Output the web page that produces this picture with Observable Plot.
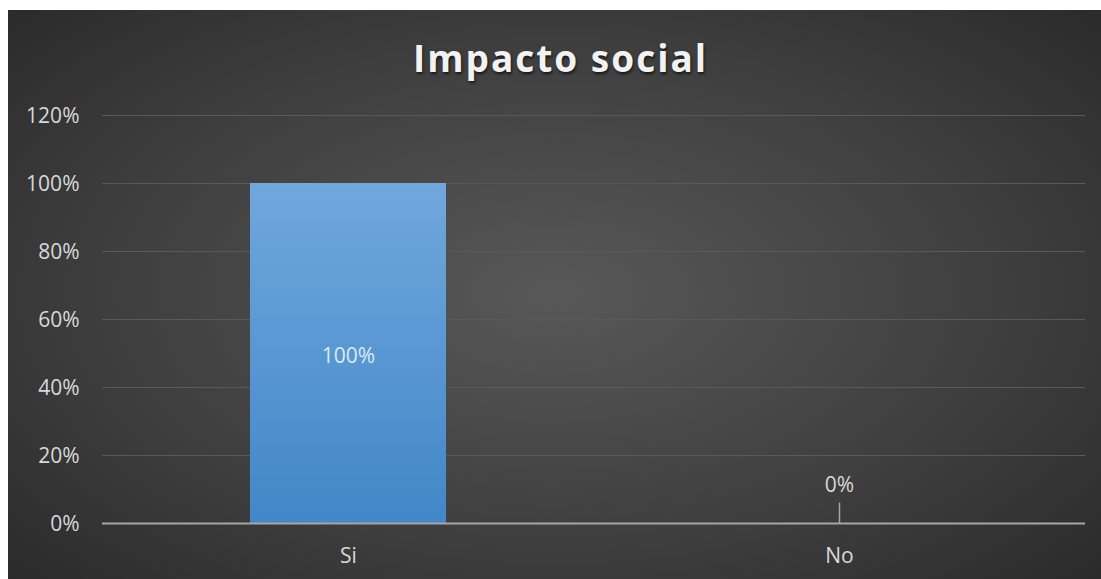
<!DOCTYPE html>
<html>
<head>
<meta charset="utf-8">
<script src="https://cdn.jsdelivr.net/npm/d3@7"></script>
<script src="https://cdn.jsdelivr.net/npm/@observablehq/plot@0.6"></script>
<style>
  html, body { margin: 0; padding: 0; background: #ffffff; width: 1101px; height: 579px; overflow: hidden; }
  #card {
    position: absolute; left: 8px; top: 10px; width: 1093px; height: 569px;
    background: radial-gradient(ellipse 75% 80% at 50% 50%, #585858 0%, #3e3e3e 55%, #262626 100%);
    font-family: "Open Sans", sans-serif;
  }
  #title {
    height: 80px; box-sizing: border-box; padding-left: 12px; padding-top: 23px;
    text-align: center; color: #f2f2f2; font-weight: 700; font-size: 37px; line-height: 50px;
    letter-spacing: 2px; text-shadow: 1px 2px 3px rgba(0,0,0,0.65);
  }
  #chart svg { display: block; }
</style>
</head>
<body>
<div id="card">
  <div id="title">Impacto social</div>
  <div id="chart"></div>
</div>
<script>
const categories = ["Si", "No"];
const values = [1.0, 0.0];
const yTicks = [0, 0.2, 0.4, 0.6, 0.8, 1.0, 1.2];
const pct = d => Math.round(d * 100) + "%";

const data = categories.map((c, i) => ({category: c, value: values[i]}));

const chart = Plot.plot({
  width: 1093,
  height: 489,
  marginTop: 25,
  marginBottom: 56,
  marginLeft: 94,
  marginRight: 16,
  style: {background: "transparent", color: "#d9d9d9", fontFamily: "Open Sans, sans-serif", overflow: "visible"},
  x: {domain: categories, paddingInner: 0.6, paddingOuter: 0.3, label: null},
  y: {domain: [0, 1.2], label: null},
  marks: [
    Plot.ruleY(yTicks.filter(d => d > 0), {stroke: "#595959", strokeWidth: 1.2}),
    Plot.barY(data, {x: "category", y: "value", fill: "url(#barGrad)", filter: d => d.value > 0, style: "filter: url(#barShadow)"}),
    Plot.ruleY([0], {stroke: "#a6a6a6", strokeWidth: 2}),
    Plot.ruleX(data.filter(d => d.value === 0), {x: "category", y1: "value", y2: d => d.value + 0.06, stroke: "#a6a6a6", strokeWidth: 1.5}),
    Plot.text(data.filter(d => d.value > 0), {x: "category", y: d => d.value / 2, dy: 3, text: d => pct(d.value), fill: "#dce9f7", fontSize: 21}),
    Plot.text(data.filter(d => d.value === 0), {x: "category", y: "value", dy: -38, text: d => pct(d.value), fill: "#d9d9d9", fontSize: 21}),
    Plot.axisY({ticks: yTicks, tickFormat: pct, tickSize: 0, tickPadding: 23, fontSize: 21, dy: 1, label: null}),
    Plot.axisX({tickSize: 0, tickPadding: 25, fontSize: 21, label: null})
  ]
});

const ns = "http://www.w3.org/2000/svg";
const defs = document.createElementNS(ns, "defs");
defs.innerHTML = `
  <linearGradient id="barGrad" x1="0" y1="0" x2="0" y2="1">
    <stop offset="0%" stop-color="#70a7dd"/>
    <stop offset="100%" stop-color="#4287c8"/>
  </linearGradient>
  <filter id="barShadow" x="-10%" y="-10%" width="120%" height="120%">
    <feDropShadow dx="0" dy="0" stdDeviation="3" flood-color="#000" flood-opacity="0.45"/>
  </filter>`;
chart.insertBefore(defs, chart.firstChild);
document.getElementById("chart").appendChild(chart);
</script>
</body>
</html>
